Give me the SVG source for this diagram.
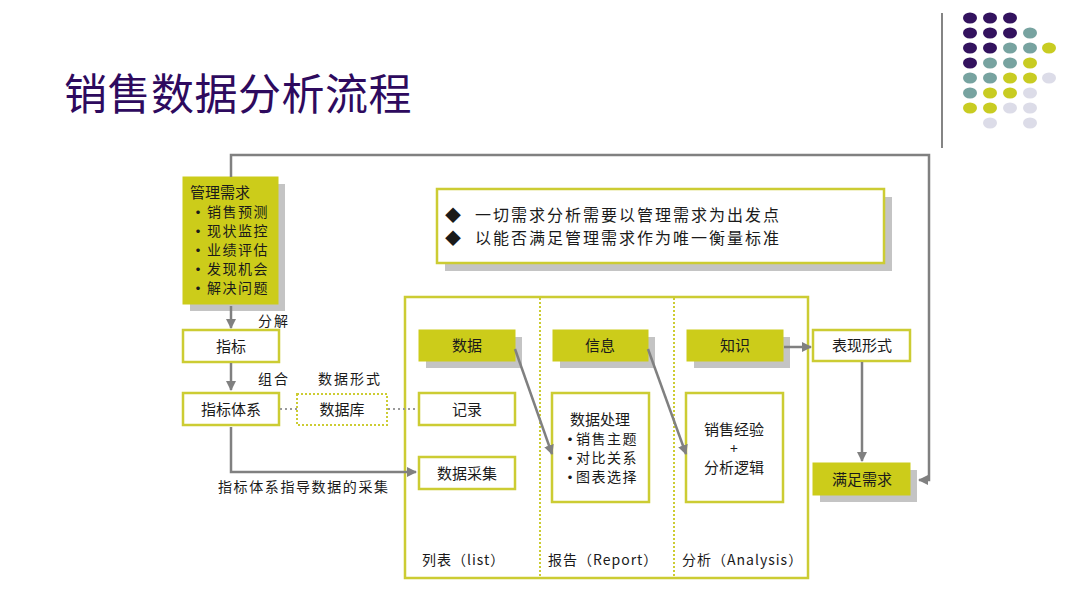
<svg xmlns="http://www.w3.org/2000/svg" width="1080" height="608" viewBox="0 0 1080 608">
<defs>
<style>
.t{font-family:"Noto Sans CJK SC","Noto Sans",sans-serif;fill:#1a1a1a;}
.box{fill:#fff;stroke:#cccc33;stroke-width:2.5;}
.frame{fill:none;stroke:#cccc33;stroke-width:2.5;}
.fill{fill:#cccc1a;stroke:#cccc1a;stroke-width:1;}
.sh{fill:#c4c4c4;}
.ln{fill:none;stroke:#808080;stroke-width:2.5;}
.dot{fill:none;stroke:#999;stroke-width:2;stroke-dasharray:2 3;}
.P{fill:#33125e;}.T{fill:#77a3a0;}.Y{fill:#c8cc22;}.L{fill:#dcdce8;}
</style>
<marker id="ah" viewBox="0 0 10 10" refX="9" refY="5" markerWidth="4" markerHeight="4" orient="auto-start-reverse">
<path d="M0,0 L10,5 L0,10 z" fill="#808080"/>
</marker>
</defs>
<rect width="1080" height="608" fill="#fff"/>

<g id="title">
<text x="64" y="110" font-size="43" fill="#2e0a5e" style="font-family:'Noto Sans CJK SC',sans-serif" letter-spacing="0.5">销售数据分析流程</text>
</g>

<g id="logo">
<line x1="942" y1="13" x2="942" y2="148" stroke="#333" stroke-width="1.2"/>
<ellipse class="P" cx="970" cy="18" rx="7" ry="5.5"/><ellipse class="P" cx="990" cy="18" rx="7" ry="5.5"/><ellipse class="P" cx="1010" cy="18" rx="7" ry="5.5"/>
<ellipse class="P" cx="970" cy="33" rx="7" ry="5.5"/><ellipse class="P" cx="990" cy="33" rx="7" ry="5.5"/><ellipse class="P" cx="1010" cy="33" rx="7" ry="5.5"/><ellipse class="T" cx="1030" cy="33" rx="7" ry="5.5"/>
<ellipse class="P" cx="970" cy="48" rx="7" ry="5.5"/><ellipse class="P" cx="990" cy="48" rx="7" ry="5.5"/><ellipse class="T" cx="1010" cy="48" rx="7" ry="5.5"/><ellipse class="T" cx="1030" cy="48" rx="7" ry="5.5"/><ellipse class="Y" cx="1049" cy="48" rx="7" ry="5.5"/>
<ellipse class="P" cx="970" cy="63" rx="7" ry="5.5"/><ellipse class="T" cx="990" cy="63" rx="7" ry="5.5"/><ellipse class="T" cx="1010" cy="63" rx="7" ry="5.5"/><ellipse class="Y" cx="1030" cy="63" rx="7" ry="5.5"/>
<ellipse class="T" cx="970" cy="78" rx="7" ry="5.5"/><ellipse class="T" cx="990" cy="78" rx="7" ry="5.5"/><ellipse class="Y" cx="1010" cy="78" rx="7" ry="5.5"/><ellipse class="Y" cx="1030" cy="78" rx="7" ry="5.5"/><ellipse class="L" cx="1049" cy="78" rx="7" ry="5.5"/>
<ellipse class="T" cx="970" cy="93" rx="7" ry="5.5"/><ellipse class="Y" cx="990" cy="93" rx="7" ry="5.5"/><ellipse class="Y" cx="1010" cy="93" rx="7" ry="5.5"/><ellipse class="L" cx="1030" cy="93" rx="7" ry="5.5"/>
<ellipse class="Y" cx="970" cy="108" rx="7" ry="5.5"/><ellipse class="Y" cx="990" cy="108" rx="7" ry="5.5"/><ellipse class="L" cx="1010" cy="108" rx="7" ry="5.5"/><ellipse class="L" cx="1030" cy="108" rx="7" ry="5.5"/>
<ellipse class="L" cx="990" cy="123" rx="7" ry="5.5"/><ellipse class="L" cx="1030" cy="123" rx="7" ry="5.5"/>
</g>

<g id="container">
<rect class="frame" x="405" y="297" width="403" height="281"/>
<line x1="540" y1="298" x2="540" y2="577" stroke="#cccc33" stroke-width="2" stroke-dasharray="2 2"/>
<line x1="674" y1="298" x2="674" y2="577" stroke="#cccc33" stroke-width="2" stroke-dasharray="2 2"/>
<text class="t" x="422" y="565" font-size="14" letter-spacing="1">列表（list）</text>
<text class="t" x="548" y="565" font-size="14" letter-spacing="1">报告（Report）</text>
<text class="t" x="682" y="565" font-size="14" letter-spacing="1">分析（Analysis）</text>
</g>

<g id="mgmt">
<rect class="sh" x="190" y="184" width="95" height="127"/>
<rect class="fill" x="183" y="177" width="95" height="127"/>
<text class="t" x="190" y="198" font-size="15">管理需求</text>
<g font-size="14" class="t">
<text x="191" y="217"><tspan font-weight="bold">•</tspan><tspan x="207" letter-spacing="1.5">销售预测</tspan></text>
<text x="191" y="236"><tspan font-weight="bold">•</tspan><tspan x="207" letter-spacing="1.5">现状监控</tspan></text>
<text x="191" y="255"><tspan font-weight="bold">•</tspan><tspan x="207" letter-spacing="1.5">业绩评估</tspan></text>
<text x="191" y="274"><tspan font-weight="bold">•</tspan><tspan x="207" letter-spacing="1.5">发现机会</tspan></text>
<text x="191" y="293"><tspan font-weight="bold">•</tspan><tspan x="207" letter-spacing="1.5">解决问题</tspan></text>
</g>
</g>

<g id="zhibiao">
<rect class="box" x="183" y="330" width="96" height="32"/>
<text class="t" x="231" y="352" font-size="15" text-anchor="middle">指标</text>
</g>
<g id="zhibiaotixi">
<rect class="box" x="183" y="393" width="96" height="32"/>
<text class="t" x="231" y="415" font-size="15" text-anchor="middle">指标体系</text>
</g>
<g id="shujuku">
<rect x="297" y="394" width="90" height="31" fill="#fff" stroke="#cccc33" stroke-width="2" stroke-dasharray="2 2"/>
<text class="t" x="342" y="415" font-size="15" text-anchor="middle">数据库</text>
</g>

<g id="note">
<rect class="sh" x="445" y="197" width="447" height="74"/>
<rect class="box" x="437" y="189" width="447" height="74"/>
<text class="t" x="445" y="221" font-size="16">◆</text>
<text class="t" x="475" y="221" font-size="16" letter-spacing="2">一切需求分析需要以管理需求为出发点</text>
<text class="t" x="445" y="244" font-size="16">◆</text>
<text class="t" x="475" y="244" font-size="16" letter-spacing="2">以能否满足管理需求作为唯一衡量标准</text>
</g>

<g id="shuju">
<rect class="sh" x="426" y="337" width="96" height="31"/>
<rect class="fill" x="419" y="330" width="96" height="31"/>
<text class="t" x="467" y="351" font-size="15" text-anchor="middle">数据</text>
</g>
<g id="xinxi">
<rect class="sh" x="560" y="337" width="95" height="31"/>
<rect class="fill" x="553" y="330" width="95" height="31"/>
<text class="t" x="600" y="351" font-size="15" text-anchor="middle">信息</text>
</g>
<g id="zhishi">
<rect class="sh" x="694" y="337" width="96" height="31"/>
<rect class="fill" x="687" y="330" width="96" height="31"/>
<text class="t" x="735" y="351" font-size="15" text-anchor="middle">知识</text>
</g>

<g id="jilu">
<rect class="box" x="419" y="393" width="96" height="32"/>
<text class="t" x="467" y="415" font-size="15" text-anchor="middle">记录</text>
</g>
<g id="caiji">
<rect class="box" x="419" y="457" width="96" height="32"/>
<text class="t" x="467" y="479" font-size="15" text-anchor="middle">数据采集</text>
</g>
<g id="chuli">
<rect class="box" x="552" y="393" width="97" height="109"/>
<text class="t" x="600" y="425" font-size="15" text-anchor="middle">数据处理</text>
<g class="t" font-size="14">
<text x="563" y="444"><tspan font-weight="bold">•</tspan><tspan x="576" letter-spacing="1.5">销售主题</tspan></text>
<text x="563" y="463"><tspan font-weight="bold">•</tspan><tspan x="576" letter-spacing="1.5">对比关系</tspan></text>
<text x="563" y="482"><tspan font-weight="bold">•</tspan><tspan x="576" letter-spacing="1.5">图表选择</tspan></text>
</g>
</g>
<g id="jingyan">
<rect class="box" x="686" y="393" width="97" height="109"/>
<text class="t" x="734" y="435" font-size="15" text-anchor="middle">销售经验</text>
<text class="t" x="734" y="454" font-size="14" text-anchor="middle">+</text>
<text class="t" x="734" y="473" font-size="15" text-anchor="middle">分析逻辑</text>
</g>

<g id="biaoxian">
<rect class="box" x="813" y="330" width="97" height="31"/>
<text class="t" x="862" y="351" font-size="15" text-anchor="middle">表现形式</text>
</g>
<g id="manzu">
<rect class="sh" x="820" y="470" width="97" height="32"/>
<rect class="fill" x="813" y="463" width="97" height="32"/>
<text class="t" x="862" y="485" font-size="15" text-anchor="middle">满足需求</text>
</g>

<g id="connectors">
<path class="ln" d="M231,177 V155 H929 V480 H919" marker-end="url(#ah)"/>
<path class="ln" d="M231,306 V328" marker-end="url(#ah)"/>
<path class="ln" d="M231,363 V390" marker-end="url(#ah)"/>
<path class="ln" d="M231,427 V472 H416" marker-end="url(#ah)"/>
<line class="dot" x1="280" y1="409" x2="297" y2="409"/>
<line class="dot" x1="388" y1="409" x2="418" y2="409"/>
<path class="ln" d="M515,349 L552,454" marker-end="url(#ah)"/>
<path class="ln" d="M648,349 L686,454" marker-end="url(#ah)"/>
<path class="ln" d="M784,347 H811" marker-end="url(#ah)"/>
<path class="ln" d="M862,362 V461" marker-end="url(#ah)"/>
<text class="t" x="258" y="326" font-size="14" letter-spacing="2">分解</text>
<text class="t" x="258" y="384" font-size="14" letter-spacing="2">组合</text>
<text class="t" x="318" y="384" font-size="14" letter-spacing="2">数据形式</text>
<text class="t" x="218" y="492" font-size="14" letter-spacing="1.6">指标体系指导数据的采集</text>
</g>
</svg>
